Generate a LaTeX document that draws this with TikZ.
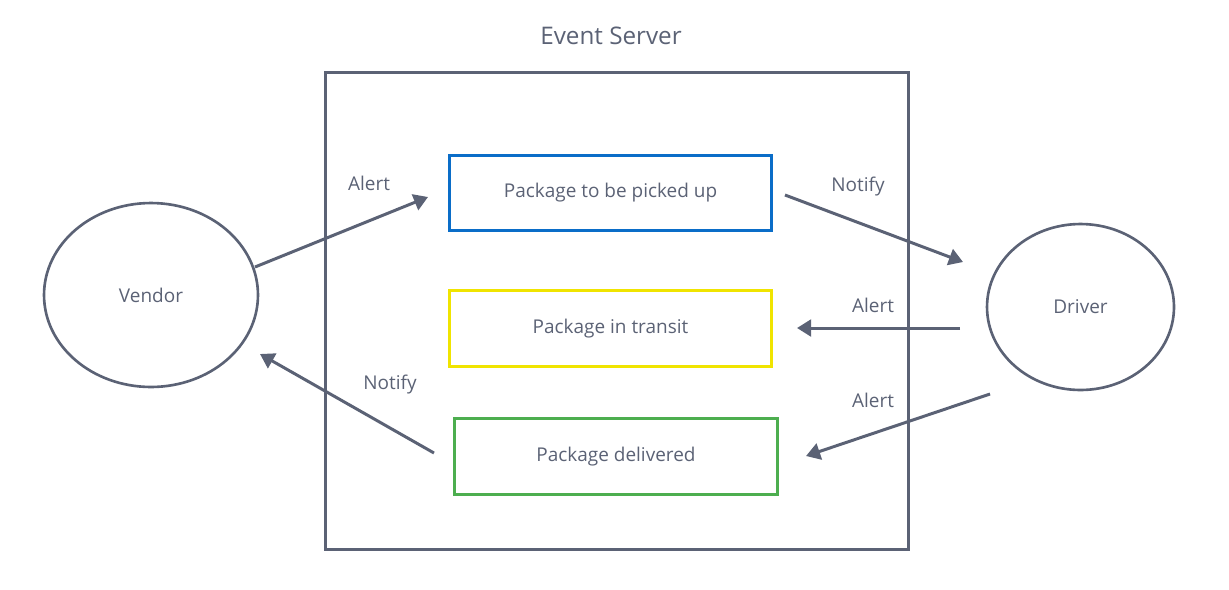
\documentclass[tikz,border=0pt]{standalone}
\usepackage{fontspec}
\setmainfont{Open Sans}
\usetikzlibrary{arrows.meta, positioning, shapes.geometric}
\definecolor{Ink}{HTML}{5B6275}
\definecolor{Blue}{HTML}{0A6DC8}
\definecolor{Yellow}{HTML}{F0E400}
\definecolor{Green}{HTML}{4DAE4F}

\begin{document}
\begin{tikzpicture}[x=0.02cm,y=-0.02cm,font=\fontsize{10.8}{12}\selectfont,text=Ink,flow/.style={-{Triangle[length=8pt,width=9.5pt]}, line width=1.7pt, draw=Ink},state/.style={draw, line width=1.7pt, minimum width=6.46cm, minimum height=1.51cm, inner sep=0pt},actor/.style={ellipse, draw=Ink, line width=1.5pt, inner sep=0pt},label/.style={font=\fontsize{10.8}{12}\selectfont}]
\useasboundingbox (0,0) rectangle (1229,589);
\node[draw=Ink, line width=1.7pt, minimum width=11.68cm, minimum height=9.56cm, inner sep=0pt] (server) at (617,311) {};
\node[font=\fontsize{13.8}{16}\selectfont] (title) at (611,36) {Event Server};
\node[state, draw=Blue] (pickup) at (610.5,193) {Package to be picked up};
\node[state, draw=Yellow] (transit) at (610.5,328.5) {Package in transit};
\node[state, draw=Green] (delivered) at (616,456.5) {Package delivered};
\node[actor, minimum width=4.28cm, minimum height=3.68cm] (vendor) at (151,295) {Vendor};
\node[actor, minimum width=3.74cm, minimum height=3.32cm] (driver) at (1080.5,307) {Driver};
% arrow ends
\coordinate (v1) at (255,267); \coordinate (p1) at (428,197);
\coordinate (p2) at (785,195); \coordinate (d1) at (963,262);
\coordinate (d2) at (960,328); \coordinate (t1) at (797,328);
\coordinate (d3) at (990,394); \coordinate (g1) at (806,456);
\coordinate (g2) at (434,453); \coordinate (v2) at (260,354);
\draw[flow] (v1) -- (p1);
\draw[flow] (p2) -- (d1);
\draw[flow] (d2) -- (t1);
\draw[flow] (d3) -- (g1);
\draw[flow] (g2) -- (v2);
\node[label] (alertA) at (369,183) {Alert};
\node[label] (notifyA) at (858,187) {Notify};
\node[label] (alertB) at (873,305) {Alert};
\node[label] (alertC) at (873,400) {Alert};
\node[label] (notifyB) at (390,385) {Notify};
\end{tikzpicture}
\end{document}
